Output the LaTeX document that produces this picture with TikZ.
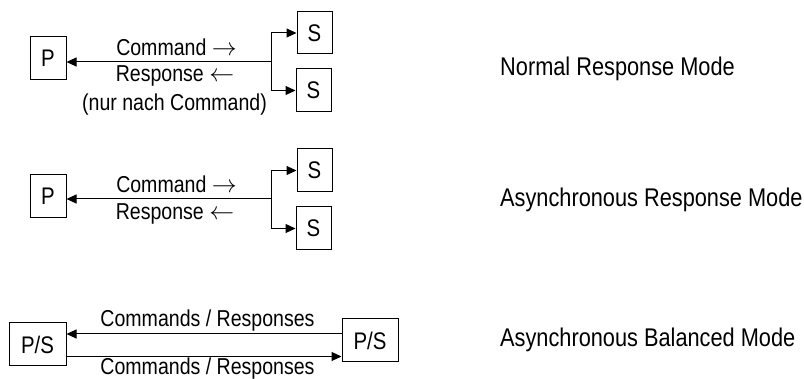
\documentclass[tikz,border=0pt]{standalone}
\usepackage{fontspec}
\setmainfont{Liberation Sans}[FakeStretch=0.85]
\usetikzlibrary{arrows.meta}

\begin{document}
\begin{tikzpicture}[x=1pt,y=-1pt,
  box/.style={draw, line width=1pt, inner sep=0pt, minimum width=36pt,
    minimum height=43pt, font=\fontsize{24}{28}\selectfont},
  lbl/.style={inner sep=0pt, anchor=base, font=\fontsize{23}{27}\selectfont},
  mode/.style={inner sep=0pt, anchor=base west, font=\fontsize{25.6}{30}\selectfont},
  link/.style={line width=1pt},
  tip/.style={-{Triangle[length=10pt,width=9pt]}}
]
\useasboundingbox (0,0) rectangle (804,379);

% --- Normal Response Mode ---
\node[box] (p1) at (48,58.5) {P};
\node[box, minimum width=35pt, minimum height=42pt] (s1a) at (314.5,33) {S};
\node[box, minimum width=35pt] (s1b) at (313.5,90.5) {S};
\coordinate (j1) at (271,62);
\draw[link,tip] (j1) -- (j1 -| p1.east);
\draw[link,tip] (j1) |- (s1a.west);
\draw[link,tip] (j1) |- (s1b.west);
\node[lbl] (c1) at (176.5,56) {Command $\rightarrow$};
\node[lbl] (r1) at (175,82) {Response $\leftarrow$};
\node[lbl] (n1) at (174.5,111) {(nur nach Command)};
\node[mode] (m1) at (500,76) {Normal Response Mode};

% --- Asynchronous Response Mode ---
\node[box] (p2) at (48,196) {P};
\node[box, minimum width=35pt] (s2a) at (314.5,170.5) {S};
\node[box, minimum width=35pt] (s2b) at (313.5,228.5) {S};
\coordinate (j2) at (271,199);
\draw[link,tip] (j2) -- (j2 -| p2.east);
\draw[link,tip] (j2) |- (s2a.west);
\draw[link,tip] (j2) |- (s2b.west);
\node[lbl] (c2) at (176.5,193) {Command $\rightarrow$};
\node[lbl] (r2) at (175,220) {Response $\leftarrow$};
\node[mode] (m2) at (500,207) {Asynchronous Response Mode};

% --- Asynchronous Balanced Mode ---
\node[box, minimum width=57pt] (ps1) at (37.5,344.5) {P/S};
\node[box, minimum width=56pt] (ps2) at (370,340.5) {P/S};
\coordinate (y3t) at (0,334);
\coordinate (y3b) at (0,356.5);
\draw[link,tip] (ps2.west |- y3t) -- (ps1.east |- y3t);
\draw[link,tip] (ps1.east |- y3b) -- (ps2.west |- y3b);
\node[lbl] (c3) at (207.5,327) {Commands / Responses};
\node[lbl] (c4) at (207.5,375) {Commands / Responses};
\node[mode] (m3) at (500,347) {Asynchronous Balanced Mode};
\end{tikzpicture}
\end{document}
